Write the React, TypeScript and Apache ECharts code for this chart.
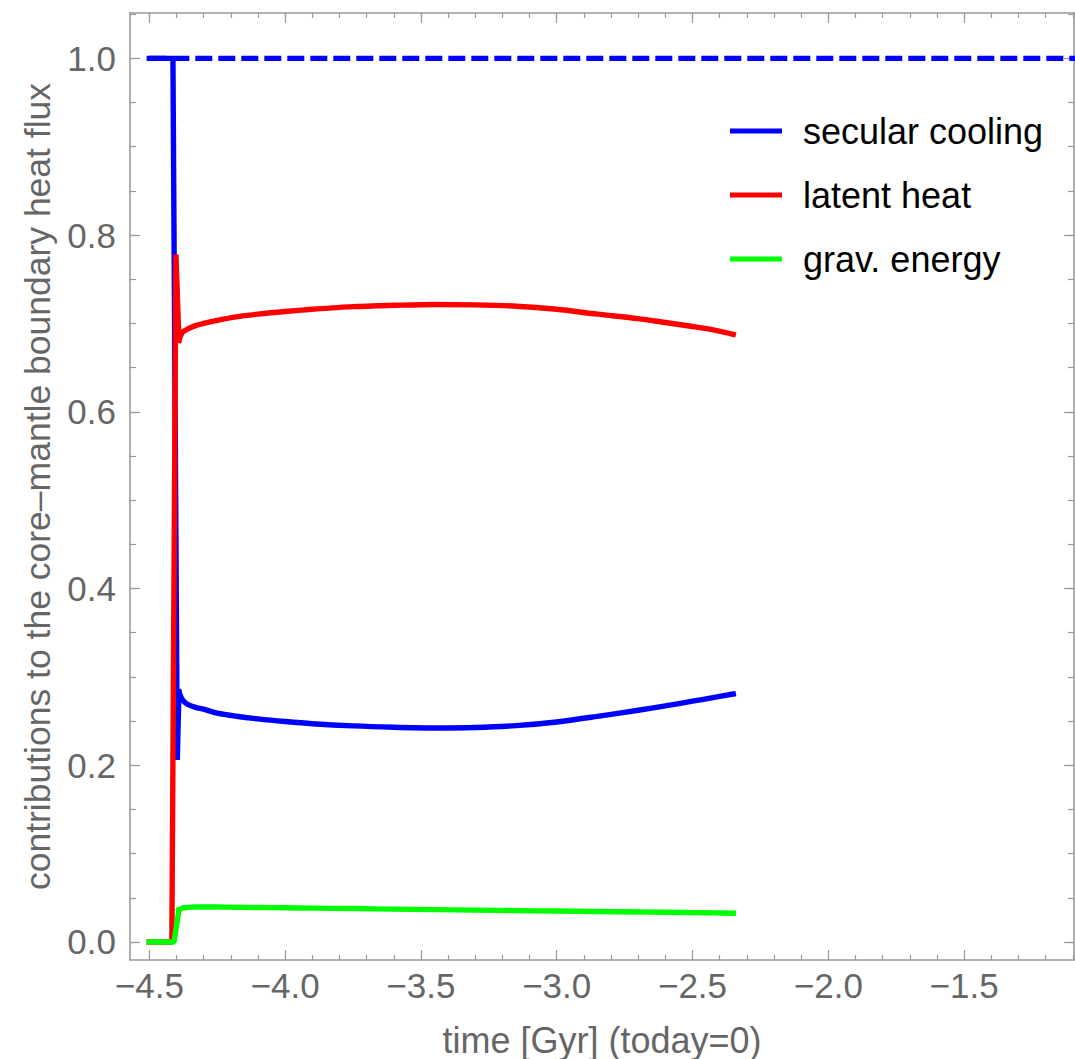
import React, { useEffect, useRef } from "react";
import * as echarts from "echarts";

// Time axis [Gyr] of the smooth part of each curve, after inner-core nucleation
const curveTime = [
  -4.391, -4.378, -4.36, -4.33, -4.3, -4.25, -4.18, -4.1, -4.0, -3.9, -3.75,
  -3.6, -3.45, -3.3, -3.15, -3.0, -2.85, -2.7, -2.6, -2.5, -2.42, -2.35,
];

// Fractional contributions to the core-mantle boundary heat flux
const coolingCurve = [
  0.283, 0.274, 0.269, 0.2655, 0.2635, 0.259, 0.2555, 0.2525, 0.2495, 0.247,
  0.2445, 0.243, 0.2422, 0.2427, 0.2448, 0.249, 0.2553, 0.2622, 0.2672,
  0.2725, 0.2768, 0.2806,
];
const latentCurve = [
  0.681, 0.69, 0.6935, 0.6975, 0.7, 0.7035, 0.7075, 0.7105, 0.7135, 0.716,
  0.719, 0.7205, 0.7215, 0.721, 0.7195, 0.716, 0.7105, 0.7055, 0.701, 0.6965,
  0.6925, 0.6877,
];
const gravCurve = [
  0.036, 0.0385, 0.039, 0.0395, 0.0395, 0.0395, 0.0393, 0.039, 0.0387, 0.0383,
  0.0378, 0.0372, 0.0366, 0.036, 0.0355, 0.035, 0.0345, 0.034, 0.0336, 0.0332,
  0.0329, 0.0325,
];

// Onset segments before the smooth part (purely thermal core, then the jump)
const coolingOnsetTime = [-4.5, -4.413, -4.397];
const coolingOnsetValue = [1.0, 1.0, 0.206];
const latentOnsetTime = [-4.5, -4.417, -4.402];
const latentOnsetValue = [0.0, 0.0, 0.778];
const gravOnsetTime = [-4.5, -4.409];
const gravOnsetValue = [0.0, 0.0];

// Total (sum of all contributions)
const totalTime = [-4.5, -1.0];
const totalValue = [1.0, 1.0];

// Frame ticks
const xMajorTicks = [-4.5, -4.0, -3.5, -3.0, -2.5, -2.0, -1.5];
const xMinorTicks = [
  -4.5, -4.4, -4.3, -4.2, -4.1, -4.0, -3.9, -3.8, -3.7, -3.6, -3.5, -3.4, -3.3,
  -3.2, -3.1, -3.0, -2.9, -2.8, -2.7, -2.6, -2.5, -2.4, -2.3, -2.2, -2.1, -2.0,
  -1.9, -1.8, -1.7, -1.6, -1.5, -1.4, -1.3, -1.2, -1.1,
];
const yMajorTicks = [0.0, 0.2, 0.4, 0.6, 0.8, 1.0];
const yMinorTicks = [
  0.0, 0.05, 0.1, 0.15, 0.2, 0.25, 0.3, 0.35, 0.4, 0.45, 0.5, 0.55, 0.6, 0.65,
  0.7, 0.75, 0.8, 0.85, 0.9, 0.95, 1.0, 1.05,
];

const seriesNames = ["secular cooling", "latent heat", "grav. energy"];
const seriesColors = ["#0000ff", "#ff0000", "#00ff00"];

const X_MIN = -4.5711;
const X_MAX = -1.0954;
const Y_MIN = -0.0204;
const Y_MAX = 1.0513;

const FONT = "'Liberation Sans', Arial, Helvetica, sans-serif";
const FRAME = "#9a9a9a";
const LABEL = "#666666";
const LINE_W = 5.4;

function pairs(t: number[], v: number[]): number[][] {
  return t.map((x, i) => [x, v[i]]);
}

function fmt(v: number): string {
  const s = Math.abs(v).toFixed(1);
  return v < -1e-9 ? "\u2212" + s : s;
}

function frameAxis(
  position: string,
  ticks: number[],
  length: number,
  withLine: boolean,
  withLabels: boolean,
  isX: boolean,
  extra: Record<string, unknown> = {}
) {
  return {
    type: "value",
    position,
    min: isX ? X_MIN : Y_MIN,
    max: isX ? X_MAX : Y_MAX,
    axisLine: {
      show: withLine,
      onZero: false,
      lineStyle: { color: FRAME, width: 1.6 },
    },
    axisTick: {
      show: true,
      inside: true,
      length,
      customValues: ticks,
      lineStyle: { color: FRAME, width: 1.2 },
    },
    axisLabel: withLabels
      ? {
          show: true,
          customValues: ticks,
          formatter: (v: number) => fmt(v),
          fontFamily: FONT,
          fontSize: 35,
          color: LABEL,
          margin: isX ? 8 : 14,
        }
      : { show: false },
    splitLine: { show: false },
    minorTick: { show: false },
    ...extra,
  };
}

export default function App() {
  const ref = useRef<HTMLDivElement>(null);

  useEffect(() => {
    if (!ref.current) return;
    const chart = echarts.init(ref.current, undefined, { renderer: "svg" });

    const lineBase = {
      type: "line",
      xAxisIndex: 0,
      yAxisIndex: 0,
      symbol: "none",
      showSymbol: false,
      clip: true,
    };

    const onsets = [
      pairs(coolingOnsetTime, coolingOnsetValue),
      pairs(latentOnsetTime, latentOnsetValue),
      pairs(gravOnsetTime, gravOnsetValue),
    ];
    const curves = [
      pairs(curveTime, coolingCurve),
      pairs(curveTime, latentCurve),
      pairs(curveTime, gravCurve),
    ];

    // Each contribution: a sharp onset (straight segments) joined to a smooth curve
    const contributionSeries = seriesNames.flatMap((name, i) => [
      {
        ...lineBase,
        name,
        smooth: false,
        data: onsets[i].concat([curves[i][0]]),
        lineStyle: { color: seriesColors[i], width: LINE_W, cap: "square", join: "bevel" },
        itemStyle: { color: seriesColors[i] },
      },
      {
        ...lineBase,
        name,
        smooth: 0.3,
        data: curves[i],
        lineStyle: { color: seriesColors[i], width: LINE_W, cap: "square", join: "round" },
        itemStyle: { color: seriesColors[i] },
      },
    ]);

    chart.setOption({
      animation: false,
      backgroundColor: "#ffffff",
      textStyle: { fontFamily: FONT },
      grid: {
        left: 130,
        top: 13,
        width: 944,
        height: 947,
        containLabel: false,
        outerBoundsMode: "none",
      },
      xAxis: [
        frameAxis("bottom", xMajorTicks, 10, true, true, true, {
          name: "time [Gyr] (today=0)",
          nameLocation: "middle",
          nameGap: 62,
          nameTextStyle: { fontFamily: FONT, fontSize: 36, color: LABEL },
        }),
        frameAxis("bottom", xMinorTicks, 5, false, false, true),
        frameAxis("top", xMajorTicks, 10, true, false, true),
        frameAxis("top", xMinorTicks, 5, false, false, true),
      ],
      yAxis: [
        frameAxis("left", yMajorTicks, 10, true, true, false, {
          name: "contributions to the core\u2013mantle boundary heat flux",
          nameLocation: "middle",
          nameGap: 72,
          nameTextStyle: { fontFamily: FONT, fontSize: 35.5, color: LABEL },
        }),
        frameAxis("left", yMinorTicks, 6, false, false, false),
        frameAxis("right", yMajorTicks, 10, true, false, false),
        frameAxis("right", yMinorTicks, 6, false, false, false),
      ],
      legend: {
        data: seriesNames,
        orient: "vertical",
        left: 725,
        top: 108,
        padding: 5,
        icon: "rect",
        itemWidth: 52,
        itemHeight: 5,
        itemGap: 28,
        selectedMode: false,
        textStyle: {
          fontFamily: FONT,
          fontSize: 36,
          lineHeight: 36,
          color: "#000000",
          padding: [0, 0, 0, 16],
        },
      },
      series: [
        ...contributionSeries,
        {
          ...lineBase,
          name: "total",
          smooth: false,
          data: pairs(totalTime, totalValue),
          lineStyle: { color: "#0000ff", width: LINE_W, type: [17, 6], cap: "butt" },
          itemStyle: { color: "#0000ff" },
        },
      ],
    });

    return () => chart.dispose();
  }, []);

  return (
    <div
      ref={ref}
      style={{ position: "fixed", left: 0, top: 0, width: 1075, height: 1059, background: "#fff" }}
    />
  );
}
